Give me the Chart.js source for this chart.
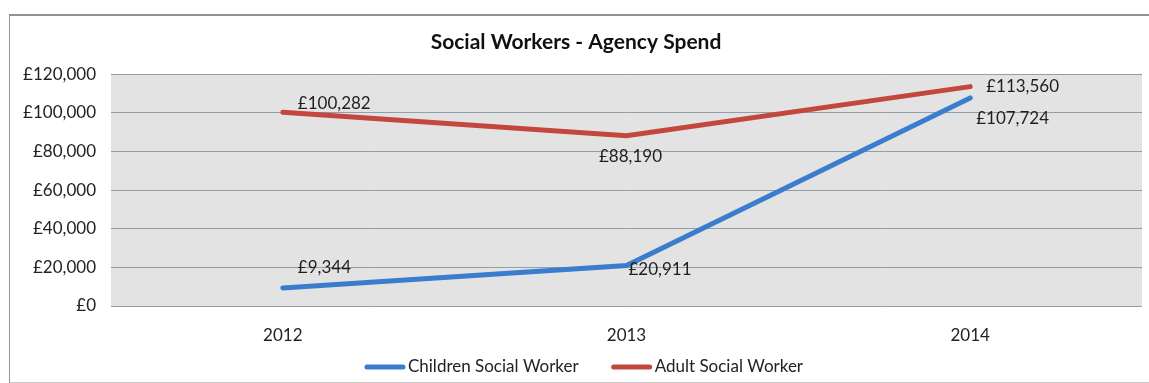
<!DOCTYPE html>
<html lang="en">
<head>
  <meta charset="UTF-8">
  <title>Social Workers - Agency Spend</title>
  <style>
    body { margin: 0; background: #fff; }
    #wrap { position: absolute; left: 9px; top: 14px; width: 1140px; height: 366px;
            border-left: 1px solid #8e9396; border-top: 2px solid #8e9396; border-bottom: 1px solid #c9c9c9; }
    canvas { display: block; }
  </style>
</head>
<body>
  <div id="wrap"><canvas id="chart" width="1140" height="366"></canvas></div>

  <script src="https://cdn.jsdelivr.net/npm/chart.js"></script>
  <script>
    const years = ['2012', '2013', '2014'];
    const children = [9344, 20911, 107724];
    const adults = [100282, 88190, 113560];
    const yTicks = [0, 20000, 40000, 60000, 80000, 100000, 120000];

    const fmt = v => '£' + v.toLocaleString('en-GB');
    const FONT = 'Lato, "Open Sans", sans-serif';

    // where each value label sits relative to its point
    const labelPos = [
      [{ dx: 15, dy: -20, align: 'left' }, { dx: 2, dy: 4, align: 'left' }, { dx: 6, dy: 21, align: 'left' }],
      [{ dx: 15, dy: -9, align: 'left' }, { dx: 4, dy: 21, align: 'center' }, { dx: 16, dy: 0, align: 'left' }]
    ];

    const plotBg = {
      id: 'plotBg',
      beforeDraw(chart) {
        const a = chart.chartArea, c = chart.ctx;
        c.save();
        c.fillStyle = '#e3e3e3';
        c.fillRect(a.left, a.top, a.right - a.left, a.bottom - a.top);
        c.restore();
      }
    };

    const valueLabels = {
      id: 'valueLabels',
      afterDatasetsDraw(chart) {
        const c = chart.ctx;
        c.save();
        c.font = '17px ' + FONT;
        c.fillStyle = '#1f1f1f';
        c.textBaseline = 'middle';
        chart.data.datasets.forEach((ds, di) => {
          chart.getDatasetMeta(di).data.forEach((pt, i) => {
            const p = labelPos[di][i];
            c.textAlign = p.align;
            c.fillText(fmt(ds.data[i]), pt.x + p.dx, pt.y + p.dy);
          });
        });
        c.restore();
      }
    };

    // excel-like legend: thick line swatch hugging the text
    const lineLegend = {
      id: 'lineLegend',
      afterDraw(chart) {
        const c = chart.ctx, sw = 40, gap = 3, between = 33;
        c.save();
        c.font = '17px ' + FONT;
        c.textBaseline = 'middle';
        c.textAlign = 'left';
        const items = chart.data.datasets.map(ds => ({ text: ds.label, color: ds.borderColor, w: c.measureText(ds.label).width }));
        const total = items.reduce((s, it) => s + sw + gap + it.w, 0) + between * (items.length - 1);
        let x = chart.width / 2 + 4 - total / 2;
        const y = chart.height - 15;
        items.forEach(it => {
          c.strokeStyle = it.color;
          c.lineWidth = 5;
          c.lineCap = 'round';
          c.beginPath();
          c.moveTo(x + 2, y);
          c.lineTo(x + sw - 2, y);
          c.stroke();
          c.fillStyle = '#222';
          c.fillText(it.text, x + sw + gap, y);
          x += sw + gap + it.w + between;
        });
        c.restore();
      }
    };

    new Chart(document.getElementById('chart'), {
      type: 'line',
      data: {
        labels: years,
        datasets: [
          { label: 'Children Social Worker', data: children, borderColor: '#3a7dcf', backgroundColor: '#3a7dcf',
            borderWidth: 5, borderCapStyle: 'round', pointRadius: 0, tension: 0 },
          { label: 'Adult Social Worker', data: adults, borderColor: '#c4473e', backgroundColor: '#c4473e',
            borderWidth: 5, borderCapStyle: 'round', pointRadius: 0, tension: 0 }
        ]
      },
      options: {
        responsive: false,
        animation: false,
        layout: { padding: { left: 0, right: 8, top: 0, bottom: 38 } },
        scales: {
          x: {
            offset: true,
            afterFit(scale) { scale.height = 38; },
            grid: { display: false },
            border: { display: false },
            ticks: { color: '#222', font: { family: 'Lato', size: 17 }, padding: 11 }
          },
          y: {
            min: 0, max: 120000,
            afterFit(scale) { scale.width = 101; },
            afterBuildTicks(scale) { scale.ticks = yTicks.map(v => ({ value: v })); },
            grid: { color: '#8fa0aa', lineWidth: 1, drawTicks: false },
            border: { display: false },
            ticks: { color: '#222', font: { family: 'Lato', size: 17 }, padding: 15, callback: v => fmt(v) }
          }
        },
        plugins: {
          title: {
            display: true, text: 'Social Workers - Agency Spend', color: '#111',
            font: { family: 'Lato', size: 21, weight: 'bold' }, padding: { top: 14, bottom: 19 }
          },
          legend: { display: false },
          tooltip: { enabled: false }
        }
      },
      plugins: [plotBg, valueLabels, lineLegend]
    });
  </script>
</body>
</html>
